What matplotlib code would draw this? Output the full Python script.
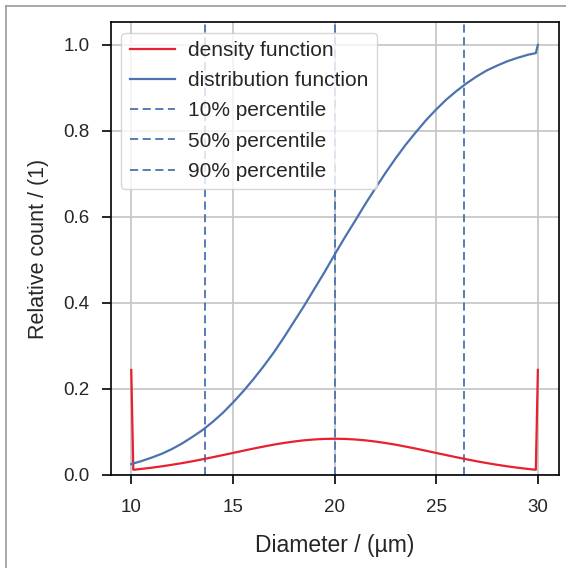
import matplotlib
matplotlib.use("Agg")
import matplotlib.pyplot as plt
from matplotlib.lines import Line2D

# ---- data ----
diameter = [10.0, 10.1, 10.5, 11, 11.5, 12, 12.5, 13, 13.5, 14, 14.5, 15, 15.5,
            16, 16.5, 17, 17.5, 18, 18.5, 19, 19.5, 20, 20.5, 21, 21.5, 22,
            22.5, 23, 23.5, 24, 24.5, 25, 25.5, 26, 26.5, 27, 27.5, 28, 28.5,
            29, 29.5, 29.9, 30.0]
density = [0.244, 0.0118, 0.0138, 0.0166, 0.0198, 0.0234, 0.0273, 0.0315,
           0.0361, 0.0409, 0.0459, 0.0509, 0.0560, 0.0610, 0.0657, 0.0702,
           0.0741, 0.0775, 0.0803, 0.0823, 0.0836, 0.0840, 0.0836, 0.0823,
           0.0803, 0.0775, 0.0741, 0.0702, 0.0657, 0.0610, 0.0560, 0.0509,
           0.0459, 0.0409, 0.0361, 0.0315, 0.0273, 0.0234, 0.0198, 0.0166,
           0.0138, 0.0118, 0.244]
cdf_x = [10.0, 10.5, 11, 11.5, 12, 12.5, 13, 13.5, 14, 14.5, 15, 15.5, 16,
         16.5, 17, 17.5, 18, 18.5, 19, 19.5, 20, 20.5, 21, 21.5, 22, 22.5,
         23, 23.5, 24, 24.5, 25, 25.5, 26, 26.5, 27, 27.5, 28, 28.5, 29,
         29.5, 29.9, 30.0]
distribution = [0.025, 0.032, 0.040, 0.049, 0.060, 0.073, 0.088, 0.104,
                0.123, 0.144, 0.168, 0.194, 0.222, 0.252, 0.284, 0.319,
                0.356, 0.393, 0.432, 0.471, 0.512, 0.552, 0.590, 0.629,
                0.666, 0.702, 0.736, 0.768, 0.797, 0.825, 0.850, 0.873,
                0.893, 0.911, 0.927, 0.941, 0.952, 0.962, 0.970, 0.977,
                0.981, 1.0]
percentile_labels = ["10% percentile", "50% percentile", "90% percentile"]
percentile_values = [13.65, 20.0, 26.35]
x_ticks = [10, 15, 20, 25, 30]
y_ticks = [0.0, 0.2, 0.4, 0.6, 0.8, 1.0]

plt.rcParams['font.family'] = ['Liberation Sans', 'DejaVu Sans']

RED = '#e8202f'
BLUE = '#4c72b0'
TXT = '#262626'

fig = plt.figure(figsize=(5.66, 5.68), dpi=100)
ax = fig.add_axes([0.196, 0.164, 0.792, 0.797])

ax.grid(True, color='#c4c4c4', linewidth=1.2, zorder=0)
ax.set_axisbelow(True)

ax.plot(diameter, density, color=RED, linewidth=1.6, label='density function', zorder=3)
ax.plot(cdf_x, distribution, color=BLUE, linewidth=1.6, label='distribution function', zorder=3)
for lab, val in zip(percentile_labels, percentile_values):
    ax.axvline(val, color=BLUE, linestyle=(0, (4.5, 2.5)), linewidth=1.3, label=lab, zorder=2)

ax.set_xlim(9.0, 31.05)
ax.set_ylim(0.0, 1.053)
ax.set_xticks(x_ticks)
ax.set_yticks(y_ticks)
ax.set_yticklabels([f"{v:.1f}" for v in y_ticks])
ax.tick_params(direction='out', length=6.5, width=1.2, color='black',
               labelsize=13.5, labelcolor=TXT)
ax.tick_params(axis='x', pad=11)
ax.tick_params(axis='y', pad=9)
for s in ax.spines.values():
    s.set_color('black')
    s.set_linewidth(1.2)

ax.set_xlabel('Diameter / (µm)', fontsize=16.5, color=TXT, labelpad=13)
ax.set_ylabel('Relative count / (1)', fontsize=15.5, color=TXT, labelpad=10)

leg = ax.legend(loc='upper left', prop={'size': 15}, frameon=True, fancybox=True,
                framealpha=0.8, edgecolor='#cccccc', borderpad=0.4,
                handlelength=2.17, handletextpad=0.65, labelspacing=0.54)
for t in leg.get_texts():
    t.set_color(TXT)

# figure border (left and top visible)
W, H = 566, 568
fig.add_artist(Line2D([6 / W, 6 / W], [0, 1 - 6 / H], transform=fig.transFigure,
                      color='#999999', linewidth=1.2))
fig.add_artist(Line2D([6 / W, 1], [1 - 6 / H, 1 - 6 / H], transform=fig.transFigure,
                      color='#999999', linewidth=1.2))

fig.savefig('out.png', dpi=100)
